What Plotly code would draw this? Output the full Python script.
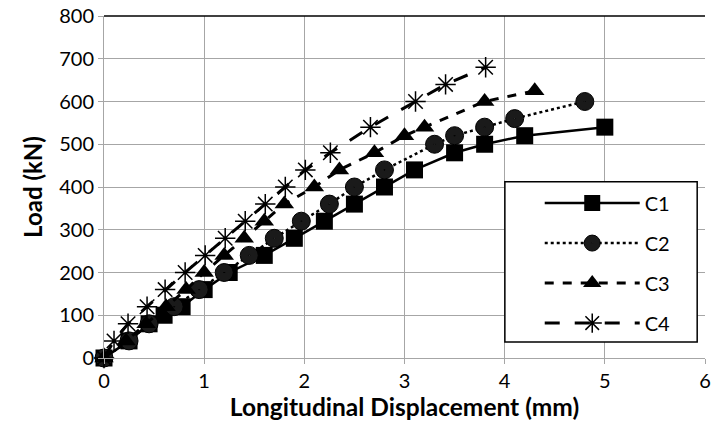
import plotly.graph_objects as go

# Data
c1_x = [0, 0.25, 0.45, 0.6, 0.78, 1.0, 1.25, 1.6, 1.9, 2.2, 2.5, 2.8, 3.1, 3.5, 3.8, 4.2, 5.0]
c1_y = [0, 40, 80, 100, 120, 160, 200, 240, 280, 320, 360, 400, 440, 480, 500, 520, 540]

c2_x = [0, 0.25, 0.45, 0.7, 0.95, 1.2, 1.45, 1.7, 1.97, 2.25, 2.5, 2.8, 3.3, 3.5, 3.8, 4.1, 4.8]
c2_y = [0, 40, 80, 120, 160, 200, 240, 280, 320, 360, 400, 440, 500, 520, 540, 560, 600]

c3_x = [0, 0.22, 0.42, 0.62, 0.82, 1.0, 1.2, 1.4, 1.6, 1.8, 2.1, 2.35, 2.7, 3.0, 3.2, 3.8, 4.3]
c3_y = [0, 40, 80, 120, 160, 200, 240, 280, 320, 360, 400, 440, 480, 520, 540, 600, 625]

c4_x = [0, 0.1, 0.24, 0.43, 0.61, 0.81, 1.01, 1.21, 1.41, 1.61, 1.81, 2.01, 2.26, 2.66, 3.11, 3.41, 3.81]
c4_y = [0, 40, 80, 120, 160, 200, 240, 280, 320, 360, 400, 440, 480, 540, 600, 640, 680]

x_ticks = [0, 1, 2, 3, 4, 5, 6]
y_ticks = [0, 100, 200, 300, 400, 500, 600, 700, 800]

FONT = "Lato, 'Open Sans', sans-serif"

fig = go.Figure()
fig.add_trace(go.Scatter(
    x=c1_x, y=c1_y, name="C1", mode="lines+markers", legendgroup="g1", cliponaxis=False,
    line=dict(color="black", width=2.5, dash="solid"),
    marker=dict(symbol="square", size=17, color="black")))
fig.add_trace(go.Scatter(
    x=c2_x, y=c2_y, name="C2", mode="lines+markers", legendgroup="g2", cliponaxis=False,
    line=dict(color="black", width=2.5, dash="dot"),
    marker=dict(symbol="circle-dot", size=18, color="#1a1a1a",
                line=dict(color="black", width=1))))
fig.add_trace(go.Scatter(
    x=c3_x, y=c3_y, name="C3", mode="lines+markers", legendgroup="g3", cliponaxis=False,
    line=dict(color="black", width=3, dash="dash"),
    marker=dict(symbol="triangle-up", size=17, color="black")))
fig.add_trace(go.Scatter(
    x=c4_x, y=c4_y, name="C4", mode="lines+markers", legendgroup="g4", cliponaxis=False,
    line=dict(color="black", width=3, dash="longdash"),
    marker=dict(symbol="asterisk-open", size=17, color="black",
                line=dict(color="black", width=1.5))))

fig.update_layout(
    width=712, height=441,
    margin=dict(l=104, r=7, t=16, b=83, autoexpand=False),
    paper_bgcolor="white", plot_bgcolor="white",
    font=dict(family=FONT, size=20, color="black"),
    showlegend=True,
    legend=dict(
        x=0.725, y=0.51, xanchor="left", yanchor="top",
        borderwidth=0, bgcolor="rgba(0,0,0,0)",
        font=dict(family=FONT, size=20, color="black"),
        itemwidth=95, tracegroupgap=11,
    ),
    shapes=[
        dict(type="line", xref="paper", yref="paper", x0=0, x1=1, y0=1, y1=1,
             line=dict(color="black", width=1.5)),
        dict(type="rect", xref="paper", yref="paper", x0=0.667, x1=0.987, y0=0.047, y1=0.515,
             line=dict(color="black", width=1.5), fillcolor="white", layer="above"),
    ],
)
fig.update_xaxes(
    range=[0, 6], tickvals=x_ticks, ticktext=[str(v) for v in x_ticks],
    automargin=False, ticklabeloverflow="allow",
    showgrid=True, gridcolor="#a6a6a6", gridwidth=1,
    showline=True, linecolor="#a6a6a6", linewidth=1,
    ticks="outside", ticklen=5, tickcolor="#a6a6a6",
    zeroline=False, tickfont=dict(size=20),
    title=dict(text="<b>Longitudinal Displacement (mm)</b>", font=dict(family=FONT, size=24.5), standoff=7),
)
fig.update_yaxes(
    range=[0, 800], tickvals=y_ticks, ticktext=[str(v) for v in y_ticks],
    automargin=False, ticklabeloverflow="allow",
    showgrid=True, gridcolor="#a6a6a6", gridwidth=1,
    showline=True, linecolor="#a6a6a6", linewidth=1,
    ticks="outside", ticklen=5, tickcolor="#a6a6a6",
    zeroline=False, tickfont=dict(size=20),
    title=dict(text="<b>Load (kN)</b>", font=dict(family=FONT, size=24), standoff=9),
)

fig.write_html("out.html", config={"displayModeBar": False},
               post_script="document.body.style.margin='0px';")
